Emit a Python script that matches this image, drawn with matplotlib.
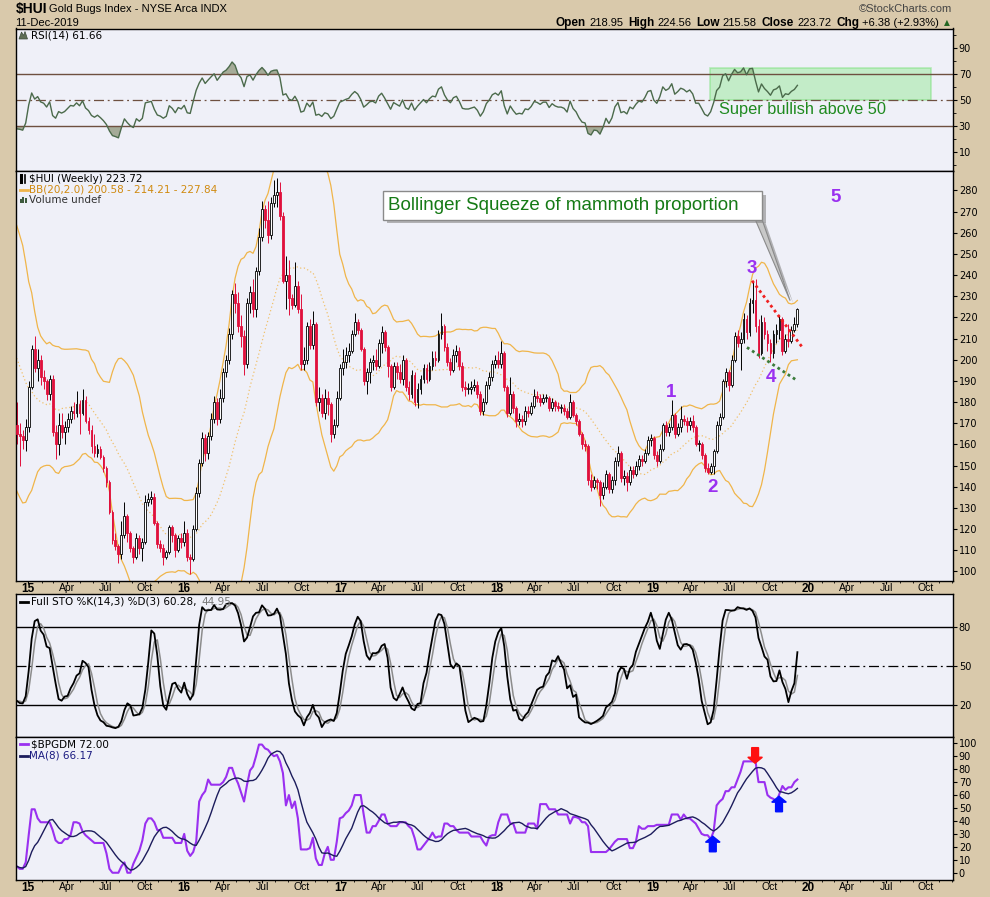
import numpy as np
import pandas as pd
import matplotlib
matplotlib.use('Agg')
import matplotlib.pyplot as plt
import matplotlib.dates as mdates
from matplotlib import font_manager
from matplotlib.patches import Rectangle, Polygon
from matplotlib.lines import Line2D
import matplotlib.patheffects as pe

# ---- weekly $HUI bars (week of 5-Dec-2014 .. week of 11-Dec-2019) ----
closes = [
    165, 164, 162, 168, 187, 205, 196, 200, 192, 190,
    184, 191, 166, 160, 169, 166, 168, 172, 176, 175,
    179, 175, 181, 171, 167, 159, 156, 158, 154, 149,
    142, 128, 115, 112, 108, 117, 126, 118, 111, 107,
    116, 111, 114, 133, 134, 135, 123, 113, 111, 107,
    109, 121, 117, 110, 116, 114, 118, 107, 106, 120,
    137, 151, 163, 156, 164, 172, 180, 172, 182, 194,
    200, 212, 231, 227, 216, 211, 198, 227, 232, 224,
    242, 258, 271, 266, 259, 274, 278, 279, 268, 237,
    240, 229, 226, 235, 224, 198, 200, 216, 207, 217,
    180, 182, 175, 182, 179, 165, 169, 182, 196, 199,
    202, 204, 212, 218, 214, 205, 190, 194, 199, 200,
    197, 208, 213, 206, 197, 187, 197, 194, 191, 200,
    187, 184, 193, 180, 186, 191, 196, 191, 197, 201,
    200, 212, 216, 206, 199, 195, 202, 204, 197, 187,
    186, 186, 187, 188, 184, 176, 180, 188, 192, 198,
    200, 198, 203, 187, 175, 184, 177, 171, 172, 171,
    176, 175, 178, 183, 182, 180, 182, 182, 177, 180,
    178, 177, 177, 176, 173, 180, 174, 171, 165, 160,
    159, 143, 140, 143, 142, 136, 140, 146, 139, 143,
    152, 156, 144, 145, 142, 148, 146, 150, 153, 152,
    156, 162, 163, 155, 152, 158, 169, 166, 168, 174,
    165, 168, 172, 171, 169, 171, 168, 160, 160, 155,
    149, 147, 150, 157, 169, 173, 190, 194, 188, 200,
    211, 208, 210, 219, 213, 227, 228, 216, 203, 218,
    212, 208, 203, 212, 214, 219, 204, 210, 209, 214,
    217, 223.72]

highs = [
    180, 170, 167, 172, 190, 207, 211, 205, 202, 195,
    191, 193, 193, 169, 175, 175, 171, 175, 178, 180,
    185, 181, 186, 183, 173, 169, 165, 160, 159, 155,
    150, 143, 129, 118, 113, 124, 133, 127, 119, 112,
    118, 117, 116, 136, 137, 138, 137, 124, 115, 113,
    110, 122, 122, 118, 117, 118, 124, 120, 108, 122,
    140, 153, 166, 165, 166, 175, 183, 182, 186, 196,
    202, 215, 233, 236, 232, 221, 214, 229, 235, 238,
    244, 262, 275, 273, 275, 277, 285, 286, 284, 270,
    249, 247, 231, 246, 237, 231, 206, 218, 219, 223,
    218, 187, 184, 186, 185, 180, 172, 185, 198, 205,
    206, 208, 214, 222, 219, 215, 206, 196, 201, 202,
    205, 210, 216, 214, 207, 198, 199, 199, 198, 202,
    201, 190, 195, 194, 189, 193, 198, 198, 199, 204,
    204, 214, 222, 217, 208, 201, 205, 207, 206, 199,
    190, 189, 190, 191, 190, 185, 182, 190, 194, 200,
    202, 204, 209, 204, 188, 192, 185, 178, 175, 174,
    178, 178, 180, 186, 185, 184, 184, 184, 183, 182,
    181, 180, 179, 179, 177, 184, 181, 175, 172, 166,
    162, 160, 146, 145, 144, 143, 142, 148, 147, 145,
    154, 159, 157, 148, 147, 150, 150, 152, 155, 155,
    158, 164, 165, 164, 157, 160, 170, 171, 170, 181,
    175, 170, 178, 174, 173, 173, 174, 169, 162, 161,
    156, 151, 151, 158, 171, 175, 191, 196, 195, 202,
    213, 214, 213, 222, 221, 229, 237, 238, 219, 221,
    220, 214, 210, 214, 217, 221, 220, 212, 217, 216,
    220, 224.56]

lows = [
    160, 150, 158, 157, 166, 186, 194, 190, 188, 186,
    181, 181, 164, 153, 155, 163, 160, 166, 170, 172,
    173, 165, 174, 170, 165, 156, 154, 154, 153, 147,
    140, 127, 113, 110, 104, 106, 116, 114, 109, 104,
    106, 108, 105, 113, 131, 132, 122, 111, 109, 103,
    106, 108, 114, 107, 109, 111, 112, 105, 99, 105,
    119, 135, 150, 152, 153, 162, 170, 169, 170, 180,
    192, 198, 210, 222, 213, 206, 193, 196, 222, 220,
    220, 240, 256, 262, 255, 257, 272, 272, 266, 236,
    224, 221, 224, 225, 222, 195, 195, 198, 205, 205,
    178, 176, 173, 172, 174, 161, 163, 168, 181, 193,
    196, 199, 203, 211, 212, 204, 188, 184, 189, 195,
    195, 196, 203, 204, 192, 185, 186, 191, 189, 188,
    185, 181, 182, 178, 177, 184, 189, 189, 190, 195,
    197, 199, 210, 204, 197, 193, 194, 199, 195, 185,
    183, 184, 184, 185, 182, 174, 174, 179, 186, 190,
    196, 196, 196, 185, 173, 174, 175, 168, 169, 168,
    169, 173, 174, 177, 180, 178, 179, 180, 176, 176,
    176, 176, 175, 174, 172, 172, 173, 169, 164, 158,
    157, 141, 138, 139, 139, 131, 134, 139, 137, 137,
    141, 150, 142, 141, 138, 141, 144, 145, 148, 150,
    151, 155, 159, 153, 150, 151, 157, 164, 164, 167,
    163, 164, 166, 169, 166, 167, 166, 159, 157, 153,
    147, 146, 146, 146, 156, 167, 172, 187, 185, 187,
    199, 206, 195, 208, 210, 211, 222, 213, 201, 202,
    210, 204, 199, 201, 208, 210, 202, 203, 206, 208,
    213, 215.58]

# 20 weeks before the first drawn bar, only to warm up BB / RSI / STO
pre_closes = [245, 240, 237, 246, 245, 233, 239, 232, 214, 203,
              197, 184, 192, 186, 176, 152, 162, 170, 172, 169]
pre_highs = [252, 248, 243, 250, 251, 246, 243, 240, 233, 216,
             206, 198, 196, 193, 188, 177, 166, 176, 180, 178]
pre_lows = [236, 234, 230, 236, 240, 231, 229, 228, 212, 200,
            193, 182, 181, 182, 171, 148, 146, 158, 164, 158]

# Gold miners bullish percent, weekly
bpgdm = [
    5, 3, 3, 8, 29, 49, 49, 42, 39, 39,
    39, 39, 33, 25, 23, 23, 26, 26, 29, 39,
    39, 38, 32, 29, 27, 25, 23, 23, 23, 23,
    15, 3, 0, 0, 0, 5, 8, 0, 0, 7,
    12, 17, 25, 38, 42, 42, 39, 33, 33, 27,
    27, 27, 27, 23, 23, 23, 30, 17, 13, 16,
    24, 55, 60, 63, 72, 68, 68, 68, 68, 70,
    74, 81, 81, 74, 69, 62, 55, 68, 79, 82,
    90, 99, 99, 96, 95, 92, 90, 91, 86, 77,
    52, 60, 50, 55, 42, 18, 18, 18, 19, 27,
    11, 6, 6, 15, 20, 10, 10, 24, 42, 43,
    46, 48, 52, 60, 60, 60, 45, 31, 31, 36,
    36, 40, 45, 45, 38, 36, 36, 36, 39, 39,
    39, 36, 34, 27, 18, 18, 21, 24, 27, 31,
    27, 28, 28, 38, 38, 36, 36, 33, 31, 31,
    31, 31, 28, 28, 28, 28, 24, 21, 28, 29,
    29, 39, 45, 45, 45, 38, 38, 31, 31, 31,
    31, 38, 38, 38, 34, 53, 53, 53, 49, 49,
    49, 45, 45, 45, 45, 38, 43, 43, 42, 39,
    39, 36, 16, 16, 16, 16, 16, 16, 18, 21,
    24, 26, 26, 26, 26, 19, 19, 24, 36, 34,
    34, 36, 36, 36, 37, 37, 37, 37, 37, 45,
    45, 45, 41, 45, 42, 42, 40, 38, 34, 30,
    29, 29, 26, 32, 52, 55, 57, 63, 63, 66,
    66, 72, 78, 86, 86, 86, 86, 86, 70, 70,
    70, 60, 58, 57, 55, 61, 67, 64, 66, 66,
    70, 72]

wave_labels = ['1', '2', '3', '4', '5']
wave_dates = ['2019-02-13', '2019-05-21', '2019-08-21', '2019-10-05', '2020-03-05']
wave_prices = [184.7, 139.7, 243.3, 191.7, 276.8]

# ---------------------------------------------------------------------
TAN = '#d9c9ab'
PANEL = '#eff0f8'
RED = '#e0103c'
BB_COL = '#efb54a'
PURPLE = '#9a30f0'

names = {f.name for f in font_manager.fontManager.ttflist}
ARIAL = 'Liberation Sans' if 'Liberation Sans' in names else 'DejaVu Sans'
NARROW = 'Liberation Sans Narrow' if 'Liberation Sans Narrow' in names else ARIAL
plt.rcParams['font.family'] = 'DejaVu Sans'
plt.rcParams['axes.linewidth'] = 1.0

n = len(closes)
dates = pd.date_range(end='2019-12-06', periods=n, freq='7D')
pre_dates = pd.date_range(end=dates[0] - pd.Timedelta(days=7), periods=len(pre_closes), freq='7D')
all_dates = pre_dates.append(dates)
c_all = pd.Series(pre_closes + closes, index=all_dates, dtype=float)
h_all = pd.Series(pre_highs + highs, index=all_dates, dtype=float)
l_all = pd.Series(pre_lows + lows, index=all_dates, dtype=float)

# Bollinger (20, 2)
mid = c_all.rolling(20).mean()
sd = c_all.rolling(20).std(ddof=0)
upper = (mid + 2 * sd)[dates]
lower = (mid - 2 * sd)[dates]
mid = mid[dates]

# RSI(14), Wilder smoothing
d = c_all.diff().fillna(0)
ag = d.clip(lower=0).ewm(alpha=1 / 14, adjust=False).mean()
al = (-d).clip(lower=0).ewm(alpha=1 / 14, adjust=False).mean()
rsi = (100 - 100 / (1 + ag / al))[dates]

# Full stochastic %K(14,3) %D(3)
ll = l_all.rolling(14).min()
hh = h_all.rolling(14).max()
fast = 100 * (c_all - ll) / (hh - ll)
sto_k = fast.rolling(3).mean()
sto_d = sto_k.rolling(3).mean()
sto_k = sto_k[dates]
sto_d = sto_d[dates]

bp = pd.Series(bpgdm, index=dates, dtype=float)
bp_ma = bp.rolling(8, min_periods=1).mean()

x = mdates.date2num(dates)
c = np.array(closes, dtype=float)
o = np.r_[pre_closes[-1], c[:-1]]
hi = np.maximum(np.array(highs, dtype=float), np.maximum(o, c))
lo = np.minimum(np.array(lows, dtype=float), np.minimum(o, c))
up = c >= o

# ---------------------------------------------------------------------
W, H = 990, 897
fig = plt.figure(figsize=(9.9, 8.97), dpi=100)
fig.patch.set_facecolor(TAN)
L, R = 16.3, 952.5


def fx(px):
    return px / W


def fy(py):
    return 1 - py / H


def panel(top, bottom):
    ax = fig.add_axes([fx(L), fy(bottom), (R - L) / W, (bottom - top) / H])
    ax.set_facecolor(PANEL)
    ax.yaxis.tick_right()
    ax.tick_params(axis='y', direction='out', length=3, width=0.8, labelsize=7, pad=1.5)
    ax.tick_params(axis='x', which='major', direction='out', length=2.5, width=0.8,
                   labelsize=7.5, pad=-1)
    ax.tick_params(axis='x', which='minor', direction='out', length=1.5, width=0.6)
    ax.set_xlim(mdates.datestr2num('2014-12-04'), mdates.datestr2num('2020-12-03'))
    return ax


ax_rsi = panel(28.5, 170.7)
ax_px = panel(171.3, 580.7)
ax_sto = panel(594.3, 736.7)
ax_bp = panel(737.3, 880.0)

qdates = pd.date_range('2015-01-01', '2020-10-01', freq='QS')
qlabels = [('%02d' % (q.year % 100)) if q.month == 1 else q.strftime('%b') for q in qdates]
for ax in (ax_rsi, ax_px, ax_sto, ax_bp):
    ax.set_xticks(mdates.date2num(qdates))
    ax.xaxis.set_minor_locator(mdates.MonthLocator())
    if ax in (ax_px, ax_bp):
        ax.set_xticklabels(qlabels, family=ARIAL)
        for lab, q in zip(ax.get_xticklabels(), qdates):
            if q.month == 1:
                lab.set_fontweight('bold')
                lab.set_fontsize(8.5)
    else:
        ax.set_xticklabels([])

# ---- RSI panel ----
ax_rsi.set_ylim(-4.4, 105)
ax_rsi.set_yticks([10, 30, 50, 70, 90])
ax_rsi.yaxis.set_minor_locator(plt.MultipleLocator(10))
ax_rsi.tick_params(axis='y', which='minor', direction='out', length=2)
BROWN = '#6e5040'
ax_rsi.axhline(70, color=BROWN, lw=1)
ax_rsi.axhline(30, color=BROWN, lw=1)
ax_rsi.axhline(50, color=BROWN, lw=0.9, ls=(0, (8, 3, 1.5, 3)))
ax_rsi.fill_between(x, rsi, 70, where=rsi > 70, interpolate=True, color='#a5ab98', lw=0)
ax_rsi.fill_between(x, rsi, 30, where=rsi < 30, interpolate=True, color='#a5ab98', lw=0)
ax_rsi.plot(x, rsi, color='#4b6a4b', lw=1.0)
ax_rsi.add_patch(Rectangle((mdates.datestr2num('2019-05-15'), 50.2),
                           mdates.datestr2num('2020-10-14') - mdates.datestr2num('2019-05-15'),
                           24.6, facecolor='#8fe88f', alpha=0.45, edgecolor='#70e070', lw=1.2))
ax_rsi.text(mdates.datestr2num('2019-06-06'), 42.6, 'Super bullish above 50',
            color='#1f8a1f', fontsize=11.8, family=ARIAL, va='center', ha='left')

# ---- price panel ----
ax_px.set_ylim(95.6, 289)
ax_px.set_yticks(np.arange(100, 281, 10))
ax_px.plot(x, upper, color=BB_COL, lw=0.9)
ax_px.plot(x, lower, color=BB_COL, lw=0.9)
ax_px.plot(x, mid, color=BB_COL, lw=0.9, ls=(0, (1, 2)), alpha=0.8)
ax_px.vlines(x[up], lo[up], hi[up], color='black', lw=0.7, zorder=2)
ax_px.vlines(x[~up], lo[~up], hi[~up], color=RED, lw=0.7, zorder=2)
body_lo = np.minimum(o, c)
body_h = np.maximum(np.abs(c - o), 0.6)
ax_px.bar(x[up], body_h[up], bottom=body_lo[up], width=4.4, facecolor='white',
          edgecolor='black', linewidth=0.6, zorder=3)
ax_px.bar(x[~up], body_h[~up], bottom=body_lo[~up], width=4.4, facecolor=RED,
          edgecolor=RED, linewidth=0.6, zorder=3)

# triangle lines
ax_px.plot(mdates.datestr2num(['2019-08-22', '2019-12-20']), [237.3, 205.2],
           color='#f02020', lw=2, ls=(0, (1, 1.2)), zorder=4)
ax_px.plot(mdates.datestr2num(['2019-08-10', '2019-12-05']), [205.8, 190.2],
           color='#3a7a3a', lw=2, ls=(0, (1, 1.2)), zorder=4)

for lab, dt, pr in zip(wave_labels, wave_dates, wave_prices):
    ax_px.text(mdates.datestr2num(dt), pr, lab, color=PURPLE, fontsize=13.5,
               fontweight='bold', family=ARIAL, ha='center', va='center', zorder=5)

# callout box
bx0, bx1 = mdates.datestr2num('2017-04-11'), mdates.datestr2num('2019-09-15')
shadow = [pe.SimplePatchShadow(offset=(2.5, -2.5), shadow_rgbFace='#888888', alpha=0.6), pe.Normal()]
ptr = Polygon([[mdates.datestr2num('2019-08-29'), 266.4],
               [mdates.datestr2num('2019-09-14'), 266.4],
               [mdates.datestr2num('2019-11-19'), 227.9]],
              closed=True, facecolor='#c8c8c8', edgecolor='#8a8a8a', lw=0.8, zorder=6)
ptr.set_path_effects(shadow)
ax_px.add_patch(ptr)
box = Rectangle((bx0, 266.1), bx1 - bx0, 13.4, facecolor='white', edgecolor='#8a8a8a',
                lw=1.0, zorder=7)
box.set_path_effects(shadow)
ax_px.add_patch(box)
ax_px.text(mdates.datestr2num('2017-04-22'), 272.8, 'Bollinger Squeeze of mammoth proportion',
           color='#157a15', fontsize=13.5, family=ARIAL, va='center', ha='left', zorder=8)

# ---- stochastic panel ----
ax_sto.set_ylim(-4.2, 104.7)
ax_sto.set_yticks([20, 50, 80])
ax_sto.axhline(80, color='black', lw=1)
ax_sto.axhline(20, color='black', lw=1)
ax_sto.axhline(50, color='black', lw=0.9, ls=(0, (8, 3, 1.5, 3)))
ax_sto.plot(x, sto_d, color='#8c8c8c', lw=1.1)
ax_sto.plot(x, sto_k, color='black', lw=1.3)

# ---- BPGDM panel ----
ax_bp.set_ylim(-5.6, 104.6)
ax_bp.set_yticks(np.arange(0, 101, 10))
ax_bp.plot(x, bp, color=PURPLE, lw=1.5)
ax_bp.plot(x, bp_ma, color='#1c1c5c', lw=1.0)
aw = dict(width=16, head_width=34, head_length=4.6, length_includes_head=True, zorder=5)
ax_bp.arrow(mdates.datestr2num('2019-05-22'), 16.2, 0, 12.0, fc='#0010ff', ec='#0010ff', **aw)
ax_bp.arrow(mdates.datestr2num('2019-10-24'), 47.1, 0, 12.0, fc='#0010ff', ec='#0010ff', **aw)
ax_bp.arrow(mdates.datestr2num('2019-08-29'), 96.6, 0, -12.0, fc='#ff1010', ec='#ff1010', **aw)

# ---- legends inside panels ----
fig.add_artist(Polygon([[fx(19), fy(39)], [fx(21.5), fy(32)], [fx(23.5), fy(35.5)],
                        [fx(25), fy(31.5)], [fx(27.5), fy(39)]], closed=True,
                       transform=fig.transFigure, facecolor='#5e6e56', edgecolor='#3e4e3e', lw=0.5))
fig.text(fx(31.5), fy(35.7), 'RSI(14) 61.66', fontsize=7.5, va='center')

fig.add_artist(Line2D([fx(21), fx(21)], [fy(182), fy(175.5)], color='black', lw=2.2,
                      transform=fig.transFigure))
fig.add_artist(Line2D([fx(25), fx(25)], [fy(183), fy(175)], color='black', lw=1.2,
                      transform=fig.transFigure))
fig.text(fx(29.3), fy(178.7), '$HUI (Weekly) 223.72', fontsize=7.5, va='center')
fig.add_artist(Line2D([fx(19.5), fx(27.5)], [fy(189.7), fy(189.7)], color=BB_COL, lw=2,
                      transform=fig.transFigure))
fig.text(fx(29.3), fy(189.7), 'BB(20,2.0) 200.58 - 214.21 - 227.84', fontsize=7.5,
         va='center', color='#d08a10')
for bxp, bh in zip([19.5, 22, 24.5], [4, 6, 5]):
    fig.add_artist(Rectangle((fx(bxp), fy(203)), 2 / W, bh / H, facecolor='#3d5a3d',
                             transform=fig.transFigure))
fig.text(fx(29.3), fy(199.7), 'Volume undef', fontsize=7.5, va='center', color='#333333')

fig.add_artist(Line2D([fx(19.5), fx(27.5)], [fy(601.7), fy(601.7)], color='black', lw=2,
                      transform=fig.transFigure))
t1 = fig.text(fx(31.5), fy(601.7), 'Full STO %K(14,3) %D(3) 60.28,', fontsize=7.5, va='center')
fig.add_artist(Line2D([fx(19.5), fx(27.5)], [fy(744), fy(744)], color=PURPLE, lw=2,
                      transform=fig.transFigure))
fig.text(fx(31), fy(744), '$BPGDM 72.00', fontsize=7.5, va='center')
fig.add_artist(Line2D([fx(19.5), fx(27.5)], [fy(755.7), fy(755.7)], color='#1c1c5c', lw=2,
                      transform=fig.transFigure))
fig.text(fx(29.3), fy(755.7), 'MA(8) 66.17', fontsize=7.5, va='center', color='#1a1a80')

# ---- header ----
renderer = fig.canvas.get_renderer()
fig.text(fx(15.5), fy(9.5), '$HUI', fontsize=10, fontweight='bold', va='center', family=NARROW)
fig.text(fx(49), fy(9.5), 'Gold Bugs Index - NYSE Arca INDX', fontsize=8, va='center',
         family=NARROW)
fig.text(fx(15.5), fy(23), '11-Dec-2019', fontsize=8, va='center', family=NARROW)
fig.text(fx(952), fy(9.5), '\u00a9StockCharts.com', fontsize=8, va='center', ha='right',
         family=NARROW, color='#444444')

bb = t1.get_window_extent(renderer)
fig.text(fx(bb.x1 + 4), fy(601.7), '44.95', fontsize=7.5, va='center', color='#777777')

parts = [('Open', True), ('218.95', False), ('High', True), ('224.56', False),
         ('Low', True), ('215.58', False), ('Close', True), ('223.72', False),
         ('Chg', True), ('+6.38 (+2.93%)', False), ('\u25b2', False)]
pieces = []
for s, bold in parts:
    kw = dict(fontsize=8.5 if bold else 8, fontweight='bold' if bold else 'normal',
              va='center', family=NARROW)
    if s == '\u25b2':
        kw.update(fontsize=5.5, color='#226622', family='DejaVu Sans')
    t = fig.text(0, fy(23), s, **kw)
    pieces.append((t, t.get_window_extent(renderer).width, 3 if bold else 5))
total = sum(w + g for _, w, g in pieces) - pieces[-1][2]
pos = 950 - total
for t, w, g in pieces:
    t.set_x(fx(pos))
    pos += w + g

fig.savefig('out.png', dpi=100, facecolor=TAN)
